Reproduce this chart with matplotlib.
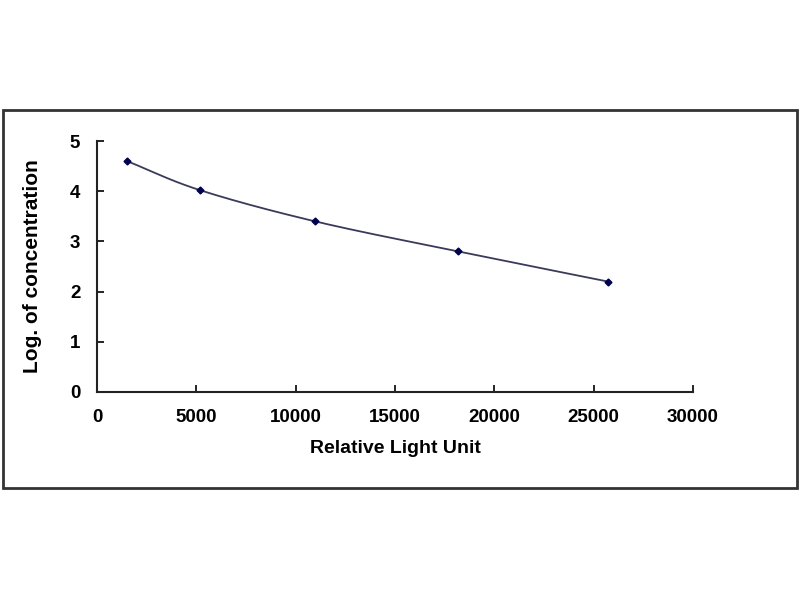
import matplotlib
matplotlib.use("Agg")
import matplotlib.pyplot as plt
import numpy as np
from matplotlib.patches import Rectangle

# standard curve readings
rlu = [1510, 5190, 10970, 18170, 25720]
log_conc = [4.6, 4.02, 3.4, 2.8, 2.2]

x_ticks = [0, 5000, 10000, 15000, 20000, 25000, 30000]
y_ticks = [0, 1, 2, 3, 4, 5]


def smooth(xs, ys, n=40):
    """Catmull-Rom style smoothing through the points (like a spreadsheet smoothed line)"""
    xs = np.asarray(xs, float)
    ys = np.asarray(ys, float)
    px = np.concatenate([[2 * xs[0] - xs[1]], xs, [2 * xs[-1] - xs[-2]]])
    py = np.concatenate([[2 * ys[0] - ys[1]], ys, [2 * ys[-1] - ys[-2]]])
    out_x, out_y = [], []
    t = np.linspace(0, 1, n)
    for i in range(1, len(px) - 2):
        for arr, out in ((px, out_x), (py, out_y)):
            p0, p1, p2, p3 = arr[i - 1], arr[i], arr[i + 1], arr[i + 2]
            out.extend(0.5 * ((2 * p1) + (-p0 + p2) * t
                              + (2 * p0 - 5 * p1 + 4 * p2 - p3) * t ** 2
                              + (-p0 + 3 * p1 - 3 * p2 + p3) * t ** 3))
    return np.array(out_x), np.array(out_y)


plt.rcParams['font.family'] = ['Liberation Sans', 'DejaVu Sans']
plt.rcParams['font.weight'] = 'bold'

fig = plt.figure(figsize=(8, 6), dpi=100)
fig.patch.set_facecolor('white')

# outer frame
fig.add_artist(Rectangle((3 / 800, 1 - 488 / 600), 794 / 800, 378 / 600,
                         transform=fig.transFigure, fill=False,
                         edgecolor='#333333', linewidth=2))

ax = fig.add_axes([97 / 800, 1 - 392 / 600, 596 / 800, 251 / 600])
sx, sy = smooth(rlu, log_conc)
ax.plot(sx, sy, color='#3a3a5a', linewidth=1.3)
ax.plot(rlu, log_conc, linestyle='none', marker='D', markersize=3.5,
        color='#000050')

ax.set_xlim(0, 30000)
ax.set_ylim(0, 5)
ax.set_xticks(x_ticks)
ax.set_yticks(y_ticks)
ax.tick_params(direction='in', length=5, width=1.2, labelsize=13.5, pad=12)
ax.tick_params(axis='y', pad=12)
for s in ['top', 'right']:
    ax.spines[s].set_visible(False)
for s in ['left', 'bottom']:
    ax.spines[s].set_linewidth(1.5)
    ax.spines[s].set_color('#222222')

ax.set_xlabel('Relative Light Unit', fontsize=14, fontweight='bold', labelpad=10)
ax.set_ylabel('Log. of concentration', fontsize=15, fontweight='bold', labelpad=20)

fig.savefig('out.png', dpi=100, facecolor='white')
